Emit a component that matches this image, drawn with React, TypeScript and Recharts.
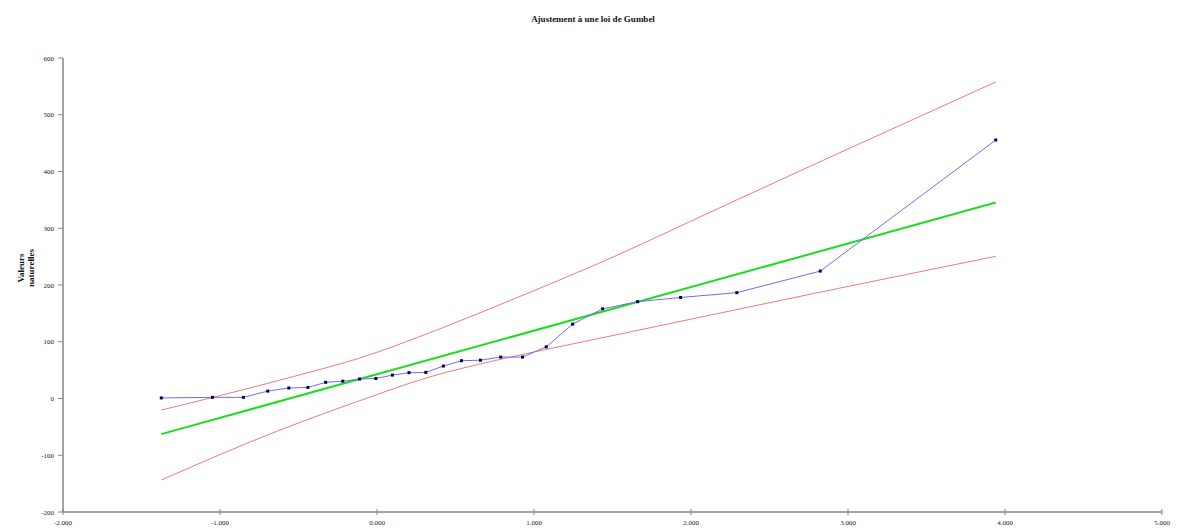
import React from "react";
import { ComposedChart, Line, XAxis, YAxis } from "recharts";

// Gumbel reduced variate (x) and observed values
const gumbelX = [-1.374, -1.048, -0.851, -0.696, -0.562, -0.44, -0.327, -0.218, -0.111, -0.007, 0.098, 0.204, 0.311, 0.423, 0.538, 0.659, 0.788, 0.927, 1.078, 1.246, 1.437, 1.66, 1.934, 2.292, 2.823, 3.941];
const observed = [1, 2, 2, 13, 18.5, 19.5, 28.5, 30.5, 34.3, 35.3, 41.2, 45.5, 46, 57.2, 66.6, 67.5, 73, 73, 91, 131, 158, 170.6, 178, 186.5, 224.5, 455.5];

// fitted Gumbel line
const fitX = [-1.374, 3.941];
const fitY = [-62.8, 345.4];

// confidence bounds
const upperX = [-1.374, -0.945, -0.521, -0.097, 0.328, 0.753, 1.156, 1.411, 2.175, 2.939, 3.449, 3.941];
const upperY = [-20.5, 9, 39.5, 72.5, 115, 162, 208, 238, 335, 432, 496, 557.7];
const lowerX = [-1.374, -0.606, -0.097, 0.328, 0.753, 1.156, 1.538, 2.175, 2.939, 3.941];
const lowerY = [-143.6, -54.3, -2.6, 37.4, 67, 91, 113, 150, 194, 250.5];

const xTicks = [-2, -1, 0, 1, 2, 3, 4, 5];
const yTicks = [-200, -100, 0, 100, 200, 300, 400, 500, 600];

const title = "Ajustement à une loi de Gumbel";
const yLabelLines = ["Valeurs", "naturelles"];

const toPts = (xs: number[], ys: number[]) => xs.map((x, i) => ({ x, y: ys[i] }));
const obsData = toPts(gumbelX, observed);
const fitData = toPts(fitX, fitY);
const upperData = toPts(upperX, upperY);
const lowerData = toPts(lowerX, lowerY);

const FONT = "'Liberation Serif', 'DejaVu Serif', serif";
const AXIS = "#858585";

const XTick = (props: any) => {
  const { x, y, payload } = props;
  return (
    <g>
      <line x1={x} x2={x} y1={y - 3} y2={y + 3} stroke={AXIS} strokeWidth={1} />
      <text x={x} y={y + 13} textAnchor="middle" fontSize={7} fontFamily={FONT} fill="#222">
        {Number(payload.value).toFixed(3)}
      </text>
    </g>
  );
};

const YTick = (props: any) => {
  const { x, y, payload } = props;
  return (
    <g>
      <line x1={x - 5} x2={x} y1={y} y2={y} stroke={AXIS} strokeWidth={1} />
      <text x={x - 9} y={y + 2.5} textAnchor="end" fontSize={7} fontFamily={FONT} fill="#222">
        {payload.value}
      </text>
    </g>
  );
};

const SquareDot = (props: any) => {
  const { cx, cy, index } = props;
  if (cx == null || cy == null) return <g key={`d${index}`} />;
  return <rect key={`d${index}`} x={cx - 1.5} y={cy - 1.5} width={3} height={3} fill="#000050" />;
};

export default function App() {
  const lx = 17;
  const ly = 260;
  return (
    <div style={{ position: "relative", width: 1163, height: 523, background: "#fff" }}>
      <div
        style={{
          position: "absolute",
          left: 585,
          top: 6,
          transform: "translateX(-50%)",
          fontFamily: FONT,
          fontWeight: "bold",
          fontSize: 9,
          whiteSpace: "nowrap",
          color: "#111",
        }}
      >
        {title}
      </div>
      <svg
        width={60}
        height={523}
        style={{ position: "absolute", left: 0, top: 0, overflow: "visible" }}
      >
        <text
          x={lx}
          y={ly}
          transform={`rotate(-90 ${lx} ${ly})`}
          textAnchor="middle"
          fontFamily={FONT}
          fontWeight="bold"
          fontSize={9}
          fill="#111"
        >
          <tspan x={lx} dy={-1}>
            {yLabelLines[0]}
          </tspan>
          <tspan x={lx} dy={9.5}>
            {yLabelLines[1]}
          </tspan>
        </text>
      </svg>
      <ComposedChart
        width={1163}
        height={523}
        margin={{ top: 50, right: 9, bottom: 0, left: 0 }}
        style={{ position: "absolute", left: 0, top: 0 }}
      >
        <XAxis
          type="number"
          dataKey="x"
          domain={[-2, 5]}
          ticks={xTicks}
          height={19}
          tickSize={0}
          tickMargin={0}
          tickLine={false}
          tick={<XTick />}
          axisLine={{ stroke: AXIS, strokeWidth: 1.5 }}
          allowDataOverflow
          interval={0}
        />
        <YAxis
          type="number"
          dataKey="y"
          domain={[-200, 600]}
          ticks={yTicks}
          width={55}
          tickSize={0}
          tickMargin={0}
          tickLine={false}
          tick={<YTick />}
          axisLine={{ stroke: AXIS, strokeWidth: 1.5 }}
          allowDataOverflow
          interval={0}
        />
        <Line
          data={upperData}
          dataKey="y"
          type="monotone"
          stroke="#ee7b7b"
          strokeWidth={1}
          dot={false}
          isAnimationActive={false}
        />
        <Line
          data={lowerData}
          dataKey="y"
          type="monotone"
          stroke="#ee7b7b"
          strokeWidth={1}
          dot={false}
          isAnimationActive={false}
        />
        <Line
          data={fitData}
          dataKey="y"
          type="linear"
          stroke="#1edc1e"
          strokeWidth={2}
          dot={false}
          isAnimationActive={false}
        />
        <Line
          data={obsData}
          dataKey="y"
          type="linear"
          stroke="#6e6ef0"
          strokeWidth={1}
          dot={<SquareDot />}
          isAnimationActive={false}
        />
      </ComposedChart>
    </div>
  );
}
